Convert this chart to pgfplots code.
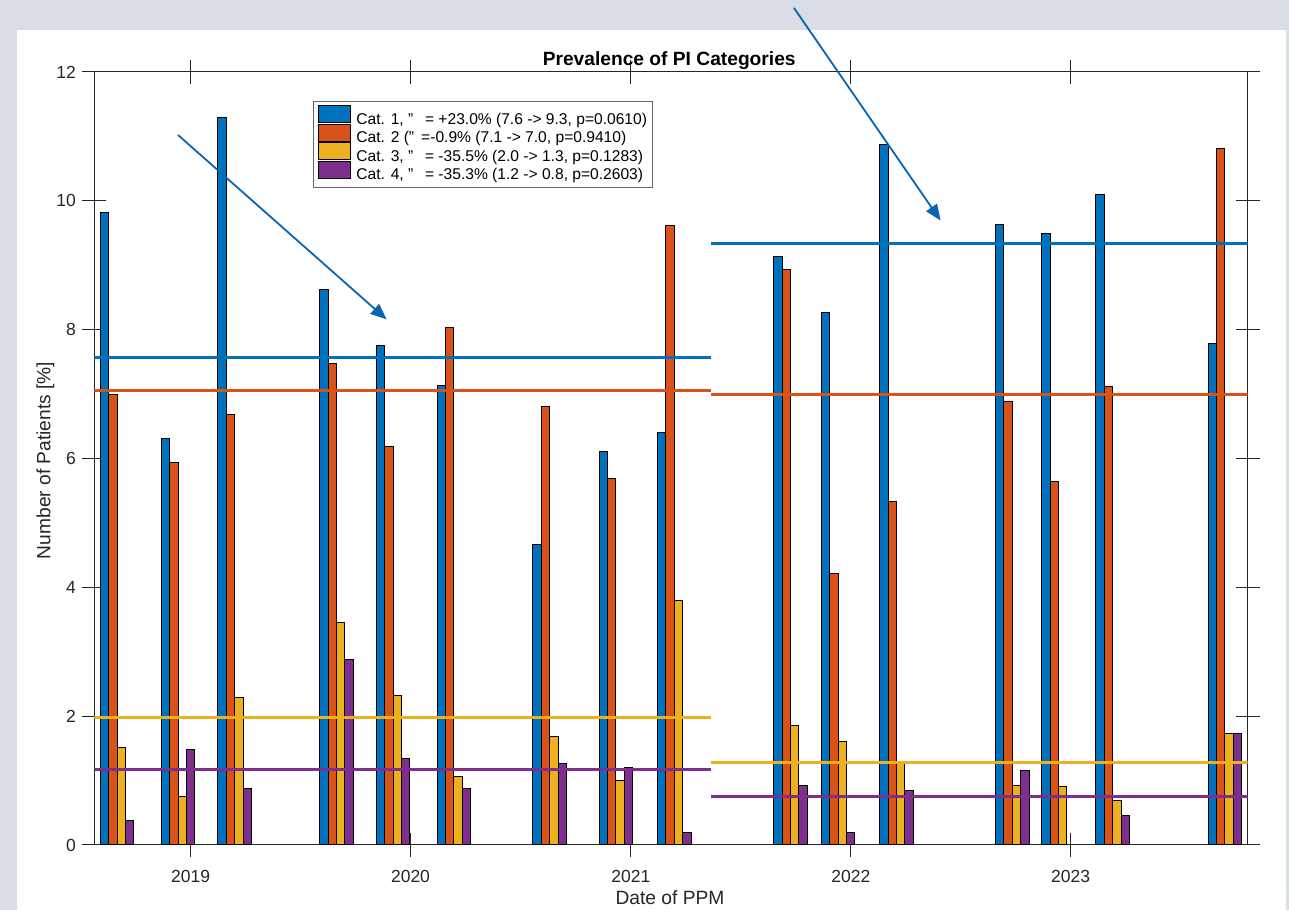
\documentclass[border=0pt]{standalone}
\usepackage{fontspec}
\setmainfont{Liberation Sans}
\usepackage{pgfplots}
\pgfplotsset{compat=1.18}
\usetikzlibrary{arrows.meta}
\definecolor{figbg}{RGB}{218,221,229}
\definecolor{c1}{HTML}{0072BD}
\definecolor{c2}{HTML}{D95319}
\definecolor{c3}{HTML}{EDB120}
\definecolor{c4}{HTML}{7E2F8E}
\definecolor{axgray}{HTML}{262626}
\definecolor{arrowblue}{HTML}{0766B4}
\begin{document}
\begin{tikzpicture}[x=1pt,y=1pt]
\fill[figbg] (0,0) rectangle (644.5,455);
\fill[white] (8.5,0) rectangle (643,440);
\begin{axis}[
  at={(47.15pt,32.5pt)}, anchor=south west,
  scale only axis, width=576.7pt, height=386.5pt,
  xmin=-160, xmax=1755, ymin=0, ymax=12,
  xtick={0,365,731,1096,1461},
  xticklabels={2019,2020,2021,2022,2023},
  ytick={0,2,4,6,8,10,12},
  tick align=center, major tick length=12pt,
  axis line style={axgray, line width=0.5pt},
  every tick/.style={axgray, line width=0.5pt},
  /pgf/number format/assume math mode=true,
  ticklabel style={font=\fontsize{8.75}{10}\selectfont, text=axgray},
  xticklabel style={anchor=base, yshift=-12.6pt},
  yticklabel style={anchor=east, inner sep=0pt, xshift=-3pt},
  legend cell align=left,
  legend style={
    at={(0.1896,0.9625)}, anchor=north west,
    draw=black!60, line width=0.4pt, fill=white,
    font=\fontsize{7.8}{9}\selectfont,
    inner xsep=2.5pt, inner ysep=2pt,
    row sep=-2.1pt, column sep=2.5pt,
    nodes={inner sep=0pt, text height=6.2pt, text depth=1.9pt},
  },
  legend image code/.code={\draw[#1, draw=black, line width=0.5pt] (0pt,-1.45pt) rectangle (16pt,7.05pt);},
]
\addplot[ybar, bar width=4.2pt, bar shift=-6.3pt, fill=c1, draw=black, line width=0.5pt] coordinates {
(-122,9.82) (-21,6.31) (73,11.29) (242,8.63) (336,7.75) (437,7.14) (596,4.67) (706,6.11)
(803,6.41) (996,9.13) (1075,8.26) (1172,10.88) (1364,9.64) (1441,9.49) (1531,10.10) (1717,7.78)};
\addlegendentry{Cat. 1, "\hspace{0.75em}= +23.0\% (7.6 -> 9.3, p=0.0610)}
\addplot[ybar, bar width=4.2pt, bar shift=-2.1pt, fill=c2, draw=black, line width=0.5pt] coordinates {
(-122,6.99) (-21,5.93) (73,6.69) (242,7.48) (336,6.19) (437,8.04) (596,6.80) (706,5.69)
(803,9.62) (996,8.94) (1075,4.22) (1172,5.33) (1364,6.88) (1441,5.65) (1531,7.12) (1717,10.81)};
\addlegendentry{Cat. 2 ("\hspace{0.45em}=-0.9\% (7.1 -> 7.0, p=0.9410)}
\addplot[ybar, bar width=4.2pt, bar shift=2.1pt, fill=c3, draw=black, line width=0.5pt] coordinates {
(-122,1.51) (-21,0.75) (73,2.29) (242,3.45) (336,2.32) (437,1.06) (596,1.69) (706,1.00)
(803,3.79) (996,1.86) (1075,1.61) (1172,1.28) (1364,0.92) (1441,0.91) (1531,0.69) (1717,1.73)};
\addlegendentry{Cat. 3, "\hspace{0.75em}= -35.5\% (2.0 -> 1.3, p=0.1283)}
\addplot[ybar, bar width=4.2pt, bar shift=6.3pt, fill=c4, draw=black, line width=0.5pt] coordinates {
(-122,0.38) (-21,1.48) (73,0.88) (242,2.88) (336,1.34) (437,0.88) (596,1.26) (706,1.21)
(803,0.19) (996,0.93) (1075,0.20) (1172,0.85) (1364,1.15) (1441,0) (1531,0.46) (1717,1.73)};
\addlegendentry{Cat. 4, "\hspace{0.75em}= -35.3\% (1.2 -> 0.8, p=0.2603)}
% period means
\addplot[c1, line width=1.5pt, forget plot] coordinates {(-160,7.57) (864,7.57)};
\addplot[c2, line width=1.5pt, forget plot] coordinates {(-160,7.05) (864,7.05)};
\addplot[c3, line width=1.5pt, forget plot] coordinates {(-160,1.98) (864,1.98)};
\addplot[c4, line width=1.5pt, forget plot] coordinates {(-160,1.17) (864,1.17)};
\addplot[c1, line width=1.5pt, forget plot] coordinates {(864,9.33) (1755,9.33)};
\addplot[c2, line width=1.5pt, forget plot] coordinates {(864,6.99) (1755,6.99)};
\addplot[c3, line width=1.5pt, forget plot] coordinates {(864,1.28) (1755,1.28)};
\addplot[c4, line width=1.5pt, forget plot] coordinates {(864,0.76) (1755,0.76)};
\end{axis}
\node[anchor=base, font=\fontsize{9.6}{11}\selectfont\bfseries] at (334.6,422) {Prevalence of PI Categories};
\node[anchor=base, font=\fontsize{9.6}{11}\selectfont, text=axgray] at (335,2.5) {Date of PPM};
\node[anchor=base, rotate=90, font=\fontsize{9.6}{11}\selectfont, text=axgray] at (25.15,224.8) {Number of Patients [\%]};
\draw[arrowblue, line width=0.9pt, -{Triangle[length=8pt, width=6.5pt]}] (89,387.5) -- (193.3,295.3);
\draw[arrowblue, line width=0.9pt, -{Triangle[length=8pt, width=6.5pt]}] (397,451) -- (470.3,344.7);
\end{tikzpicture}
\end{document}
